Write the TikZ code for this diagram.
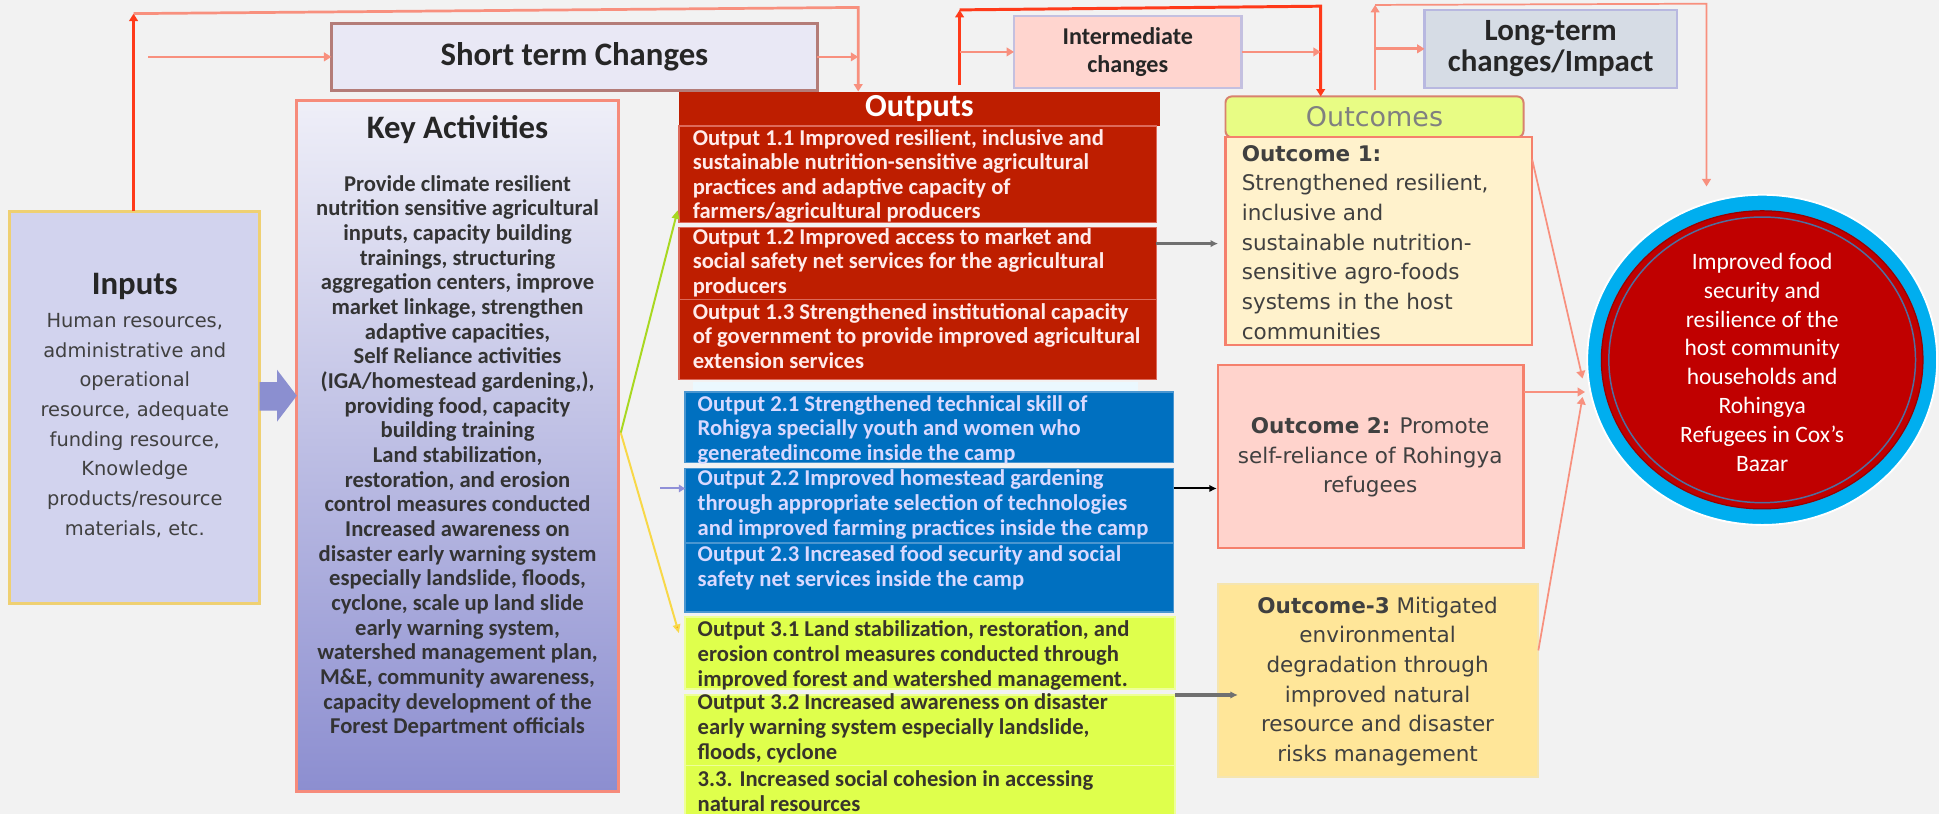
\documentclass[tikz,border=0pt]{standalone}
\usepackage{fontspec}
\setmainfont{Carlito}
\newfontfamily\gothic{DejaVu Sans}
\usetikzlibrary{arrows.meta,shapes.geometric,calc}
\definecolor{bgc}{HTML}{F2F2F2}
\definecolor{redc}{HTML}{FF3A1A}
\definecolor{salmonc}{HTML}{F8907E}
\definecolor{stfill}{HTML}{E9E8F5}
\definecolor{stborder}{HTML}{B47C78}
\definecolor{imfill}{HTML}{FFD5CF}
\definecolor{imborder}{HTML}{C4C0E0}
\definecolor{ltfill}{HTML}{D6DCE5}
\definecolor{ltborder}{HTML}{B8B8E0}
\definecolor{infill}{HTML}{D2D3EE}
\definecolor{inborder}{HTML}{EFD072}
\definecolor{katop}{HTML}{EFEFF8}
\definecolor{kabot}{HTML}{8C8ED0}
\definecolor{kaborder}{HTML}{F68B7B}
\definecolor{outred}{HTML}{BE1E00}
\definecolor{outredb}{HTML}{DD6A5A}
\definecolor{outblue}{HTML}{0070C0}
\definecolor{outblueb}{HTML}{4A96D0}
\definecolor{outgreen}{HTML}{DFFF4C}
\definecolor{outgreenb}{HTML}{EEFF99}
\definecolor{ochead}{HTML}{E8FC84}
\definecolor{ocheadb}{HTML}{D8826E}
\definecolor{ocborder}{HTML}{F5806C}
\definecolor{ocone}{HTML}{FFF2CC}
\definecolor{octwo}{HTML}{FFD3CC}
\definecolor{octhree}{HTML}{FFE699}
\definecolor{octhreeb}{HTML}{F5E5B0}
\definecolor{cblue}{HTML}{00AEEF}
\definecolor{cred}{HTML}{C00000}
\definecolor{cline}{HTML}{4F6F9F}
\definecolor{bigarr}{HTML}{8B8FD0}
\definecolor{grnln}{HTML}{A8D820}
\definecolor{yelln}{HTML}{F8D848}
\definecolor{purln}{HTML}{9090D8}
\definecolor{graya}{HTML}{707070}
\begin{document}
\begin{tikzpicture}[x=1pt,y=-1pt,
  rbox/.style={anchor=north west, inner sep=0pt, outer sep=0pt},
  title/.style={font=\fontsize{26.5}{24}\selectfont\bfseries, align=center, inner sep=0pt, text=black!85},
  outtxt/.style={anchor=west, align=left, inner sep=0pt, font=\fontsize{18.3}{19.8}\selectfont\bfseries},
  outtxtb/.style={outtxt, font=\fontsize{18.3}{20.2}\selectfont\bfseries},
  gtxt/.style={align=center, inner sep=0pt, font=\gothic\fontsize{17.4}{24}\selectfont, text=black!75},
  redln/.style={draw=redc, line width=2.4pt},
  pinkln/.style={draw=salmonc, line width=2.2pt},
  thinln/.style={draw=salmonc, line width=1.4pt},
  rtip/.style={-{Triangle[length=6pt,width=7pt]}},
  gtip/.style={-{Latex[length=6pt,width=6pt]}}
]
\fill[bgc] (0,0) rectangle (1568,658);
\useasboundingbox (0,0) rectangle (1568,658);

% ---- top boxes
\node[rbox, fill=stfill, draw=stborder, line width=2pt, minimum width=393pt, minimum height=54pt] (stc) at (268,19) {};
\node[title] (stct) at (stc.center) {Short term Changes};
\node[rbox, fill=imfill, draw=imborder, line width=2pt, minimum width=184pt, minimum height=58pt] (imc) at (820,13) {};
\node[title, font=\fontsize{19.5}{23}\selectfont\bfseries] (imct) at (imc.center) {Intermediate\\changes};
\node[rbox, fill=ltfill, draw=ltborder, line width=2pt, minimum width=204pt, minimum height=63pt] (ltc) at (1152,8) {};
\node[title, font=\fontsize{25}{25}\selectfont\bfseries] (ltct) at (ltc.center) {Long-term\\changes/Impact};

% ---- inputs
\node[rbox, fill=infill, draw=inborder, line width=2.4pt, minimum width=202pt, minimum height=317pt] (inp) at (8,171) {};
\node[inner sep=0pt, font=\fontsize{26.5}{24}\selectfont\bfseries, text=black!85] (inpt) at (109,232) {Inputs};
\node[gtxt, font=\gothic\fontsize{15.7}{24}\selectfont] (inpb) at (109,344) {Human resources,\\administrative and\\operational\\resource, adequate\\funding resource,\\Knowledge\\products/resource\\materials, etc.};

% ---- key activities
\node[rbox, top color=katop, bottom color=kabot, draw=kaborder, line width=2.4pt, minimum width=260pt, minimum height=559pt] (ka) at (240,81) {};
\node[title] (kat) at (370,105) {Key Activities};
\node[align=center, inner sep=0pt, font=\fontsize{18.3}{19.95}\selectfont\bfseries, text=black!80] (kab) at (370,369) {Provide climate resilient\\nutrition sensitive agricultural\\inputs, capacity  building\\trainings, structuring\\aggregation centers, improve\\market linkage, strengthen\\adaptive capacities,\\Self Reliance activities\\(IGA/homestead gardening,),\\providing food, capacity\\building training\\Land stabilization,\\restoration, and erosion\\control measures conducted\\Increased awareness on\\disaster early warning system\\especially landslide, floods,\\cyclone, scale up land slide\\early warning system,\\watershed management plan,\\M\&E, community awareness,\\capacity development of the\\Forest Department officials};

% big block arrow inputs -> key activities
\fill[bigarr] (inp.east |- 0,309) -- (224,309) -- (224,299) -- (ka.west |- 0,320) -- (224,341) -- (224,332) -- (inp.east |- 0,332) -- cycle;

% ---- outputs
\node[rbox, fill=outred, minimum width=389pt, minimum height=28pt] (ohd) at (549,74) {};
\node[inner sep=0pt, font=\fontsize{26}{24}\selectfont\bfseries, text=white] (ohdt) at (ohd.center) {Outputs};
\node[rbox, fill=outred, draw=outredb, line width=1.2pt, minimum width=386pt, minimum height=78pt] (o11) at (549,102) {};
\node[rbox, fill=outred, draw=outredb, line width=1.2pt, minimum width=386pt, minimum height=58pt] (o12) at (549,184) {};
\node[rbox, fill=outred, draw=outredb, line width=1.2pt, minimum width=386pt, minimum height=65pt] (o13) at (549,242) {};
\node[outtxt, text=white!92!red] (o11t) at (560,142.5) {Output 1.1 Improved resilient, inclusive and\\sustainable nutrition-sensitive agricultural\\practices and adaptive capacity of\\farmers/agricultural producers};
\node[outtxt, text=white!92!red] (o12t) at (560,212.4) {Output 1.2 Improved access to market and\\social safety net services for the agricultural\\producers};
\node[outtxt, text=white!92!red] (o13t) at (560,271.7) {Output 1.3 Strengthened institutional capacity\\of government to provide improved agricultural\\extension services};

\fill[cyan!8] (560,309) rectangle (920,316);
\node[rbox, fill=outblue, draw=outblueb, line width=1.2pt, minimum width=395pt, minimum height=57pt] (o21) at (554,317) {};
\node[rbox, fill=outblue, draw=outblueb, line width=1.2pt, minimum width=395pt, minimum height=60pt] (o22) at (554,379) {};
\node[rbox, fill=outblue, draw=outblueb, line width=1.2pt, minimum width=395pt, minimum height=56pt] (o23) at (554,439) {};
\node[outtxtb, text=white!85!blue] (o21t) at (564,347.7) {Output 2.1  Strengthened technical skill of\\Rohigya specially youth and women  who\\generatedincome inside the camp};
\node[outtxtb, text=white!85!blue] (o22t) at (564,407.8) {Output 2.2 Improved homestead gardening\\through appropriate selection of technologies\\and improved farming practices inside the camp};
\node[outtxtb, text=white!85!blue] (o23t) at (564,459) {Output 2.3 Increased food security and social\\safety net services inside the camp};

\node[rbox, fill=outgreen, draw=outgreenb, line width=1.2pt, minimum width=396pt, minimum height=58pt] (o31) at (554,499) {};
\node[rbox, fill=outgreen, draw=outgreenb, line width=1.2pt, minimum width=396pt, minimum height=57pt] (o32) at (554,562) {};
\node[rbox, fill=outgreen, draw=outgreenb, line width=1.2pt, minimum width=396pt, minimum height=45pt] (o33) at (554,619) {};
\node[outtxtb, text=black!80!olive] (o31t) at (564,529.7) {Output 3.1 Land stabilization,  restoration, and\\erosion control measures conducted through\\improved forest and watershed management.};
\node[outtxtb, text=black!80!olive] (o32t) at (564,589) {Output 3.2 Increased awareness on disaster\\early warning system especially landslide,\\floods, cyclone};
\node[outtxtb, text=black!80!olive] (o33t) at (564,640) {3.3. Increased social cohesion in accessing\\natural resources};

% ---- outcomes
\node[rbox, fill=ochead, draw=ocheadb, line width=1.6pt, rounded corners=5pt, minimum width=241pt, minimum height=33pt] (ochd) at (991,78) {};
\node[inner sep=0pt, font=\gothic\fontsize{21.8}{22}\selectfont, text=black!50] (ochdt) at (ochd.center) {Outcomes};
\node[rbox, fill=ocone, draw=ocborder, line width=2pt, minimum width=248pt, minimum height=168pt] (oc1) at (991,111) {};
\node[gtxt, anchor=west, align=left] (oc1t) at (1004,196) {\textbf{Outcome 1:}\\Strengthened  resilient,\\inclusive and\\sustainable nutrition-\\sensitive agro-foods\\systems in the host\\communities};
\node[rbox, fill=octwo, draw=ocborder, line width=2pt, minimum width=247pt, minimum height=148pt] (oc2) at (985,295) {};
\node[gtxt] (oc2t) at (1108,370) {\textbf{Outcome 2:} Promote\\self-reliance of Rohingya\\refugees};
\node[rbox, fill=octhree, draw=octhreeb, line width=1.5pt, minimum width=259pt, minimum height=156pt] (oc3) at (985,472) {};
\node[gtxt] (oc3t) at (1114,551) {\textbf{Outcome-3} Mitigated\\environmental\\degradation through\\improved  natural\\resource and disaster\\risks management};

% ---- impact circle
\node[ellipse, fill=cblue, draw=white, line width=1.5pt, inner sep=0pt, minimum width=283pt, minimum height=267pt] (circ) at (1425,291) {};
\node[ellipse, fill=cred, draw=red!60!black, line width=1pt, inner sep=0pt, minimum width=260pt, minimum height=241pt] (circin) at (circ.center) {};
\node[ellipse, draw=cline, line width=1.2pt, inner sep=0pt, minimum width=248pt, minimum height=231pt] (circln) at (circ.center) {};
\node[align=center, inner sep=0pt, text=white, font=\fontsize{19}{23.3}\selectfont] (circt) at (1425,293) {Improved food\\security and\\resilience of the\\host community\\households and\\Rohingya\\Refugees in Cox’s\\Bazar};

% ---- top connectors
\coordinate (a1) at (108,11);
\coordinate (a2) at (694,6);
\draw[redln, rtip] (inp.north -| a1) -- (a1);
\draw[pinkln, rtip] (a1) -- (a2) -- (a2 |- ohd.north);
\coordinate (b0) at (120,46);
\draw[pinkln, rtip] (b0) -- (stc.west);
\draw[pinkln, rtip] (stc.east) -- (stc.east -| a2);

\coordinate (c0) at (776,69);
\coordinate (c1) at (776,8);
\coordinate (c2) at (1068,5);
\draw[redln, rtip] (c0) -- (c1);
\draw[redln, rtip] (c1) -- (c2) -- (c2 |- ochd.north);
\draw[pinkln, rtip] (c0 |- imc.west) -- (imc.west);
\draw[pinkln, rtip] (imc.east) -- (imc.east -| c2);

\coordinate (d0) at (1112,73);
\coordinate (d1) at (1112,4);
\coordinate (d2) at (1380,3);
\draw[pinkln, rtip] (d0) -- (d1);
\draw[thinln, rtip] (d1) -- (d2) -- ($(d2 |- circ.north)+(0,-6)$);
\draw[pinkln, rtip] (d0 |- ltc.west) -- (ltc.west);

% ---- key activities -> outputs
\coordinate (k0) at ($(ka.north east)+(2,269)$);
\draw[grnln, line width=1.6pt, -{Triangle[length=7pt,width=6pt]}] (k0) -- ($(o11.south west)+(-1,-10)$);
\draw[yelln, line width=1.6pt, -{Triangle[length=7pt,width=6pt,fill=orange!90!yellow]}] (k0) -- ($(o31.north west)+(-5,13)$);
\coordinate (p0) at (534,395);
\draw[purln, line width=1.6pt, -{Triangle[length=5pt,width=6pt]}] (p0) -- (p0 -| o22.west);

% ---- outputs -> outcomes
\draw[graya, line width=3pt, gtip] ($(o12.north east)+(0,13)$) -- ($(oc1.north west)+(-6,86)$);
\draw[black, line width=1.6pt, gtip] ($(o22.north east)+(0,16)$) -- ($(oc2.north west)+(-1,100)$);
\draw[graya, line width=3pt, gtip] (o32.north east) -- ($(oc3.north west)+(16,90)$);

% ---- outcomes -> impact
\draw[thinln, rtip] ($(oc1.north east)+(0,18)$) -- ($(circ.west)+(-3,15)$);
\draw[pinkln, rtip] ($(oc2.north east)+(0,22)$) -- ($(circ.west)+(-1,26)$);
\draw[thinln, rtip] ($(oc3.north east)+(0,54)$) -- ($(circ.west)+(-3,30)$);
\end{tikzpicture}
\end{document}
